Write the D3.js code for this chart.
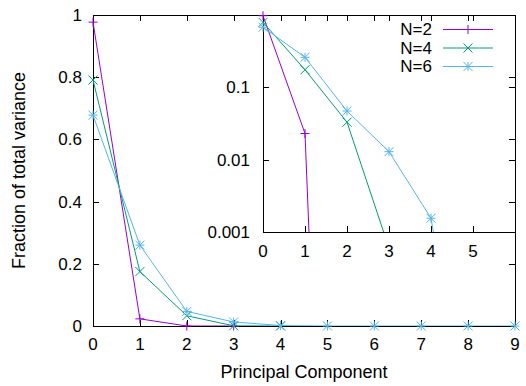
<!DOCTYPE html>
<html lang="en">
  <head>
    <meta charset="UTF-8" />
    <title>Fraction of total variance per principal component</title>
    <script src="https://d3js.org/d3.v7.min.js"></script>
    <style>
      body { margin: 0; background: #fff; }
      text { font-family: "Liberation Sans", Arial, sans-serif; font-size: 17px; fill: #000; }
      .title { font-size: 18px; }
    </style>
  </head>
  <body>
    <svg id="chart" width="526" height="386"></svg>
    <script>
      // data
      const components = [0, 1, 2, 3, 4, 5, 6, 7, 8, 9];
      const seriesNames = ["N=2", "N=4", "N=6"];
      const n2 = [0.977, 0.023, 1e-16, 1e-16];
      const n4 = [0.791, 0.175, 0.033, 0.0006, 1e-16];
      const n6 = [0.678, 0.26, 0.047, 0.0129, 0.00155, 6e-7, 1e-16, 1e-16, 1e-16, 1e-16];
      const mainYTicks = [0, 0.2, 0.4, 0.6, 0.8, 1];
      const mainXTicks = [0, 1, 2, 3, 4, 5, 6, 7, 8, 9];
      const insetYTicks = [0.001, 0.01, 0.1];
      const insetXTicks = [0, 1, 2, 3, 4, 5];

      const colors = ["#9400d3", "#009e73", "#56b4e9"];
      const shapes = ["plus", "cross", "star"];
      const series = [n2, n4, n6].map((vals, i) => ({
        name: seriesNames[i],
        color: colors[i],
        shape: shapes[i],
        points: vals.map((v, j) => ({ x: components[j], y: v })),
      }));

      const svg = d3.select("#chart");
      const tick = 6;

      // main plot
      const main = { left: 93, right: 515, top: 15, bottom: 326 };
      const x = d3.scaleLinear().domain([0, 9]).range([main.left, main.right]);
      const y = d3.scaleLinear().domain([0, 1]).range([main.bottom, main.top]);

      // inset plot (log y)
      const ins = { left: 263, right: 515, top: 15, bottom: 232 };
      const xi = d3.scaleLinear().domain([0, 6]).range([ins.left, ins.right]);
      const yi = d3.scaleLog().domain([0.001, 1]).range([ins.bottom, ins.top]);

      const defs = svg.append("defs");
      defs.append("clipPath").attr("id", "clipMain").append("rect")
        .attr("x", main.left).attr("y", main.top)
        .attr("width", main.right - main.left).attr("height", main.bottom - main.top);
      defs.append("clipPath").attr("id", "clipInset").append("rect")
        .attr("x", ins.left).attr("y", ins.top)
        .attr("width", ins.right - ins.left).attr("height", ins.bottom - ins.top);

      function markerPath(shape, r) {
        const plus = `M${-r},0H${r}M0,${-r}V${r}`;
        const cross = `M${-r},${-r}L${r},${r}M${-r},${r}L${r},${-r}`;
        if (shape === "plus") return plus;
        if (shape === "cross") return cross;
        return plus + cross;
      }

      function drawFrame(box, sx, sy, xt, yt) {
        const g = svg.append("g").attr("stroke", "#000").attr("stroke-width", 1).attr("fill", "none");
        xt.forEach((t) => {
          const px = Math.round(sx(t)) + 0.5;
          g.append("line").attr("x1", px).attr("x2", px).attr("y1", box.bottom).attr("y2", box.bottom - tick);
          g.append("line").attr("x1", px).attr("x2", px).attr("y1", box.top).attr("y2", box.top + tick);
        });
        yt.forEach((t) => {
          const py = Math.round(sy(t)) + 0.5;
          g.append("line").attr("x1", box.left).attr("x2", box.left + tick).attr("y1", py).attr("y2", py);
          g.append("line").attr("x1", box.right).attr("x2", box.right - tick).attr("y1", py).attr("y2", py);
        });
        g.append("rect")
          .attr("x", box.left + 0.5).attr("y", box.top + 0.5)
          .attr("width", box.right - box.left).attr("height", box.bottom - box.top);
      }

      // lines are clipped to the plot box, point markers are not
      function drawSeries(sx, sy, clipId, filterFn) {
        const lines = svg.append("g").attr("clip-path", `url(#${clipId})`);
        const marks = svg.append("g");
        series.forEach((s) => {
          lines.append("path")
            .datum(s.points)
            .attr("fill", "none")
            .attr("stroke", s.color)
            .attr("stroke-width", 1)
            .attr("d", d3.line().x((d) => sx(d.x)).y((d) => sy(d.y)));
          marks.selectAll(null)
            .data(s.points.filter(filterFn))
            .enter()
            .append("path")
            .attr("transform", (d) => `translate(${sx(d.x)},${sy(d.y)})`)
            .attr("d", markerPath(s.shape, 4.5))
            .attr("stroke", s.color)
            .attr("stroke-width", 1)
            .attr("fill", "none");
        });
      }

      drawFrame(main, x, y, mainXTicks, mainYTicks);
      drawSeries(x, y, "clipMain", (d) => d.x <= 9);

      // main tick labels
      svg.append("g").selectAll("text").data(mainYTicks).enter().append("text")
        .attr("x", main.left - 11).attr("y", (d) => y(d)).attr("dy", "0.35em")
        .attr("text-anchor", "end").text((d) => d3.format("~g")(d));
      svg.append("g").selectAll("text").data(mainXTicks).enter().append("text")
        .attr("x", (d) => x(d)).attr("y", main.bottom + 24)
        .attr("text-anchor", "middle").text((d) => d);

      // axis titles
      svg.append("text").attr("class", "title")
        .attr("text-anchor", "middle")
        .attr("transform", `translate(25, ${(main.top + main.bottom) / 2}) rotate(-90)`)
        .text("Fraction of total variance");
      svg.append("text").attr("class", "title")
        .attr("text-anchor", "middle")
        .attr("x", (main.left + main.right) / 2).attr("y", 378)
        .text("Principal Component");

      // inset
      drawFrame(ins, xi, yi, insetXTicks, insetYTicks);
      drawSeries(xi, yi, "clipInset", (d) => d.y >= 0.001 && d.x <= 6);
      svg.append("g").selectAll("text").data(insetYTicks).enter().append("text")
        .attr("x", ins.left - 13).attr("y", (d) => yi(d)).attr("dy", "0.35em")
        .attr("text-anchor", "end").text((d) => String(d));
      svg.append("g").selectAll("text").data(insetXTicks).enter().append("text")
        .attr("x", (d) => xi(d)).attr("y", ins.bottom + 25)
        .attr("text-anchor", "middle").text((d) => d);

      // legend
      const legend = svg.append("g");
      series.forEach((s, i) => {
        const ly = 29.5 + i * 18.5;
        legend.append("text").attr("x", 432).attr("y", ly).attr("dy", "0.35em")
          .attr("text-anchor", "end").text(s.name);
        legend.append("line").attr("x1", 443).attr("x2", 493).attr("y1", ly).attr("y2", ly)
          .attr("stroke", s.color).attr("stroke-width", 1);
        legend.append("path").attr("transform", `translate(468,${ly})`)
          .attr("d", markerPath(s.shape, 4.5))
          .attr("stroke", s.color).attr("fill", "none");
      });
    </script>
  </body>
</html>
